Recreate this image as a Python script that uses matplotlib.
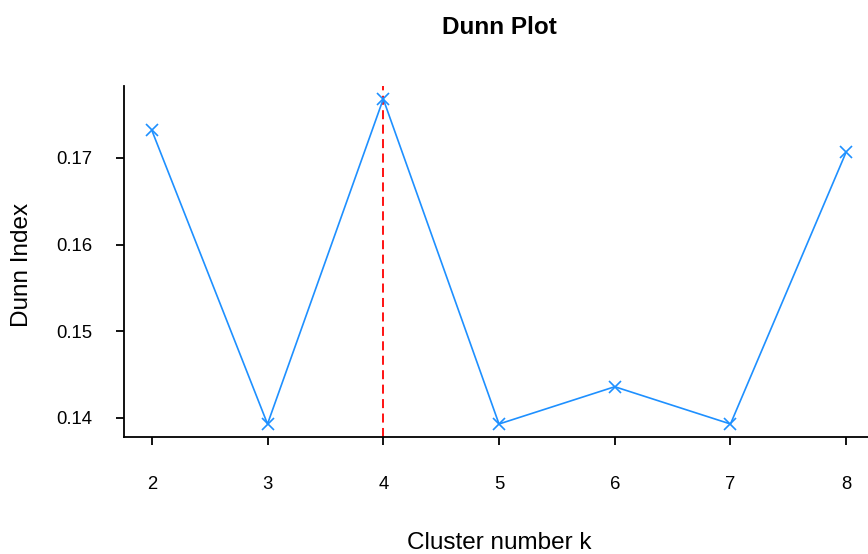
import matplotlib
matplotlib.use("Agg")
import matplotlib.pyplot as plt

plt.rcParams['font.family'] = ['Liberation Sans', 'DejaVu Sans']

# Dunn index for each number of clusters
k_values = [2, 3, 4, 5, 6, 7, 8]
dunn_index = [0.1732, 0.1393, 0.1768, 0.1393, 0.1436, 0.1393, 0.1707]
best_k = 4
y_ticks = [0.14, 0.15, 0.16, 0.17]

fig = plt.figure(figsize=(8.68, 5.54), dpi=100)
ax = fig.add_axes([124 / 868, 1 - 437 / 554, 750 / 868, 351 / 554])

ax.plot(k_values, dunn_index, color='#1E90FF', lw=1.2, marker='x',
        markersize=9, markeredgewidth=1.2, clip_on=False, zorder=3)
ax.axvline(best_k, color='red', lw=1.3, ls=(0, (5, 3)), zorder=2)

# R-style padding around the data range
span = max(dunn_index) - min(dunn_index)
ax.set_xlim(k_values[0] - 0.04 * (k_values[-1] - k_values[0]),
            k_values[-1] + 0.04 * (k_values[-1] - k_values[0]))
ax.set_ylim(min(dunn_index) - 0.04 * span, max(dunn_index) + 0.04 * span)

ax.set_xticks(k_values)
ax.set_yticks(y_ticks)
ax.set_yticklabels([f"{v:.2f}" for v in y_ticks])
ax.tick_params(axis='both', direction='out', length=6, width=1.3,
               labelsize=13.3, colors='black')
ax.tick_params(axis='x', pad=22)
ax.tick_params(axis='y', pad=17)

for side in ['top', 'right']:
    ax.spines[side].set_visible(False)
for side in ['left', 'bottom']:
    ax.spines[side].set_linewidth(1.3)

ax.set_xlabel('Cluster number k', fontsize=17.5, va='center')
ax.xaxis.set_label_coords(0.5, (437 - 543) / 351)
ax.set_ylabel('Dunn Index', fontsize=17.5, va='center')
ax.yaxis.set_label_coords((22 - 124) / 750, (437 - 265) / 351)

fig.text(ax.get_position().x0 + ax.get_position().width / 2, 1 - 28 / 554,
         'Dunn Plot', ha='center', va='center', fontsize=17.5, fontweight='bold')

fig.savefig('out.png', dpi=100)
